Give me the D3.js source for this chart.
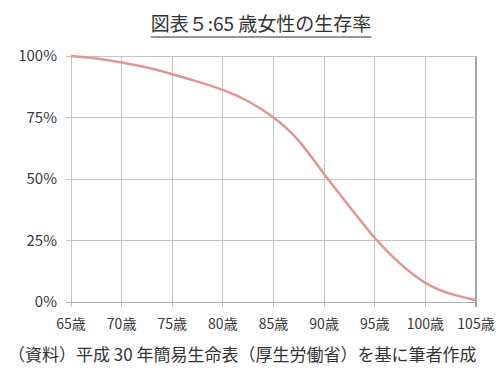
<!DOCTYPE html>
<html><head><meta charset="utf-8">
<script src="https://cdn.jsdelivr.net/npm/d3@7"></script>
<style>body{margin:0;background:#fff}svg{display:block}</style>
</head><body><svg id="c" width="500" height="383"></svg>
<script>
const title = "図表５:65 歳女性の生存率";
const source = "（資料）平成 30 年簡易生命表（厚生労働省）を基に筆者作成";
const ages = [65, 67.5, 70, 72.5, 75, 77.5, 80, 82.5, 85, 87.5, 90, 92.5, 95, 97.5, 100, 102.5, 105];
const survival = [100, 99.0, 97.4, 95.3, 92.6, 89.6, 86.2, 81.6, 75, 65.5, 52, 38.8, 26, 15.6, 7.8, 3.3, 0.8];
const xTicks = [65, 70, 75, 80, 85, 90, 95, 100, 105];
const yTicks = [0, 25, 50, 75, 100];

const svg = d3.select("#c");
const font = "'Noto Sans CJK JP', 'Noto Sans', sans-serif";
const x = d3.scaleLinear().domain([65, 105]).range([71, 476]);
const y = d3.scaleLinear().domain([0, 100]).range([302, 56]);

// grid
svg.append("g").selectAll("line.v").data(xTicks).join("line")
  .attr("x1", d => x(d)).attr("x2", d => x(d)).attr("y1", y(100)).attr("y2", y(0) + 5)
  .attr("stroke", d => d === 105 ? "#a8a8a8" : "#c6c6c6").attr("stroke-width", d => d === 105 ? 1.5 : 1)
  .attr("shape-rendering", "crispEdges");
svg.append("g").selectAll("line.h").data(yTicks).join("line")
  .attr("x1", x(65) - 5).attr("x2", x(105)).attr("y1", d => y(d)).attr("y2", d => y(d))
  .attr("stroke", d => d === 0 ? "#b0b0b0" : "#c6c6c6").attr("stroke-width", 1)
  .attr("shape-rendering", "crispEdges");

// y labels
svg.append("g").selectAll("text").data(yTicks).join("text")
  .attr("x", 57).attr("y", d => y(d)).attr("dy", "0.36em")
  .attr("text-anchor", "end").attr("font-family", font).attr("font-size", 15).attr("fill", "#3a3a3a")
  .text(d => d + "%");
// x labels
svg.append("g").selectAll("text").data(xTicks).join("text")
  .attr("x", d => x(d)).attr("y", 324).attr("dy", "0.36em")
  .attr("text-anchor", "middle").attr("font-family", font).attr("font-size", 14).attr("fill", "#3a3a3a")
  .text(d => d + "歳");

// line
const line = d3.line().x((d, i) => x(ages[i])).y(d => y(d)).curve(d3.curveNatural);
svg.append("path").datum(survival).attr("d", line)
  .attr("fill", "none").attr("stroke", "#e39593").attr("stroke-width", 2.5);

// title
const t = svg.append("text").attr("x", 261).attr("y", 24).attr("dy", "0.36em")
  .attr("text-anchor", "middle").attr("font-family", font).attr("font-size", 19).attr("fill", "#333")
  .text(title);
const bb = t.node().getBBox();
svg.append("line").attr("x1", bb.x).attr("x2", bb.x + bb.width).attr("y1", 37).attr("y2", 37)
  .attr("stroke", "#333").attr("stroke-width", 1.2);

// source
svg.append("text").attr("x", 8).attr("y", 355).attr("dy", "0.36em")
  .attr("font-family", font).attr("font-size", 17).attr("fill", "#333")
  .text(source);
</script></body></html>
